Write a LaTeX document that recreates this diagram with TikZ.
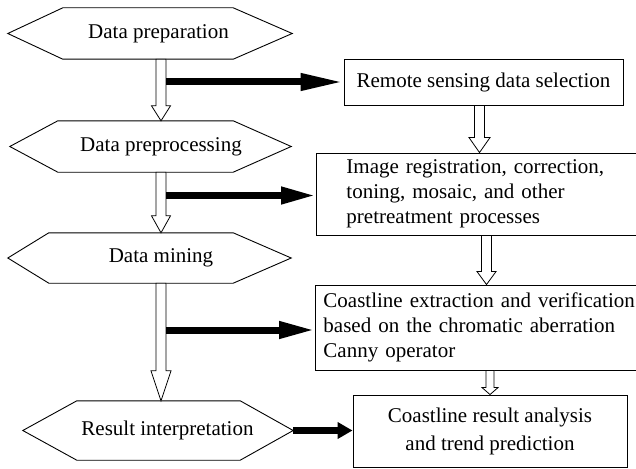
\documentclass[tikz,border=0pt]{standalone}
\usepackage{fontspec}
\setmainfont{Liberation Serif}
\usetikzlibrary{arrows.meta,calc}
\tikzset{
  txt/.style={font=\fontsize{21}{25}\selectfont},
  hexnode/.style={txt, draw=none, inner sep=0pt, minimum width=#1},
  hexline/.style={draw=black, line width=0.9pt, line join=miter},
  box/.style={txt, draw=black, line width=0.9pt, inner sep=0pt},
  hollow/.style={draw=black, fill=white, line width=0.8pt, line join=miter},
  blk/.style={draw=black, line width=7pt, -{Triangle[length=#1,width=16pt]}}
}
\newcommand\hexdraw[3]{\draw[hexline] (#1.west) -- ([xshift=#2]#1.north west) -- ([xshift=-#3]#1.north east) -- (#1.east) -- ([xshift=-#3]#1.south east) -- ([xshift=#2]#1.south west) -- cycle;}
\newcommand\hollowdown[5]{\draw[hollow] let \p1=(#1), \p2=(#2) in (\x1-#3,\y1) -- (\x1-#3,\y2+#5) -- (\x1-#4,\y2+#5) -- (\x1,\y2) -- (\x1+#4,\y2+#5) -- (\x1+#3,\y2+#5) -- (\x1+#3,\y1) -- cycle;}
\begin{document}
\begin{tikzpicture}[x=1pt,y=-1pt]
\clip (0,0) rectangle (636,468);
\fill[white] (0,0) rectangle (636,468);
% hexagons (left column)
\node[hexnode=284pt, minimum height=51pt] (h1) at (150,33.5) {\hspace*{17pt}Data preparation};
\node[hexnode=281pt, minimum height=51pt] (h2) at (150.5,146.5) {\hspace*{21pt}Data preprocessing};
\node[hexnode=283pt, minimum height=50pt] (h3) at (149.5,258) {\hspace*{23pt}Data mining};
\node[hexnode=270pt, minimum height=59pt] (h4) at (158,430.5) {\hspace*{19pt}Result interpretation};
\hexdraw{h1}{55pt}{59pt}
\hexdraw{h2}{48pt}{58pt}
\hexdraw{h3}{41pt}{58pt}
\hexdraw{h4}{54pt}{53pt}
% boxes (right column)
\node[box, minimum width=279pt, minimum height=46pt] (b1) at (483.5,82) {Remote sensing data selection};
\node[box, anchor=west, inner xsep=30pt, text width=340pt, align=left, minimum height=82pt] (b2) at (316,194)
  {Image registration, correction,\\toning, mosaic, and other\\pretreatment processes};
\node[box, anchor=west, inner xsep=8pt, text width=340pt, align=left, minimum height=85pt] (b3) at (315,327.5)
  {Coastline extraction and verification\\based on the chromatic aberration\\Canny operator};
\node[box, minimum width=274pt, minimum height=72pt, align=center, font=\fontsize{21}{28}\selectfont] (b4) at (490,431)
  {Coastline result analysis\\and trend prediction};
% hollow arrows, left
\hollowdown{[xshift=11pt]h1.south}{h2.north}{5pt}{9.5pt}{15pt}
\hollowdown{[xshift=10.5pt]h2.south}{h3.north}{5pt}{9.5pt}{17pt}
\hollowdown{[xshift=11.5pt]h3.south}{h4.north}{5pt}{10pt}{30pt}
% hollow arrows, right
\hollowdown{[xshift=-4pt]b1.south}{b2.north}{5pt}{10.5pt}{15pt}
\hollowdown{$(b2.south west)+(170.5pt,0)$}{b3.north}{5pt}{9.5pt}{13pt}
\hollowdown{$(b3.south west)+(175pt,0)$}{b4.north}{4pt}{8pt}{7pt}
% black arrows
\coordinate (s1) at (166,82);
\coordinate (s2) at (166,195.5);
\coordinate (s3) at (166,330);
\draw[blk=43pt] (s1) -- (s1 -| b1.west);
\draw[blk=35pt] (s2) -- (s2 -| b2.west);
\draw[blk=36pt] (s3) -- (s3 -| b3.west);
\draw[blk=15pt] (h4.east) -- (h4.east -| b4.west);
\end{tikzpicture}
\end{document}
